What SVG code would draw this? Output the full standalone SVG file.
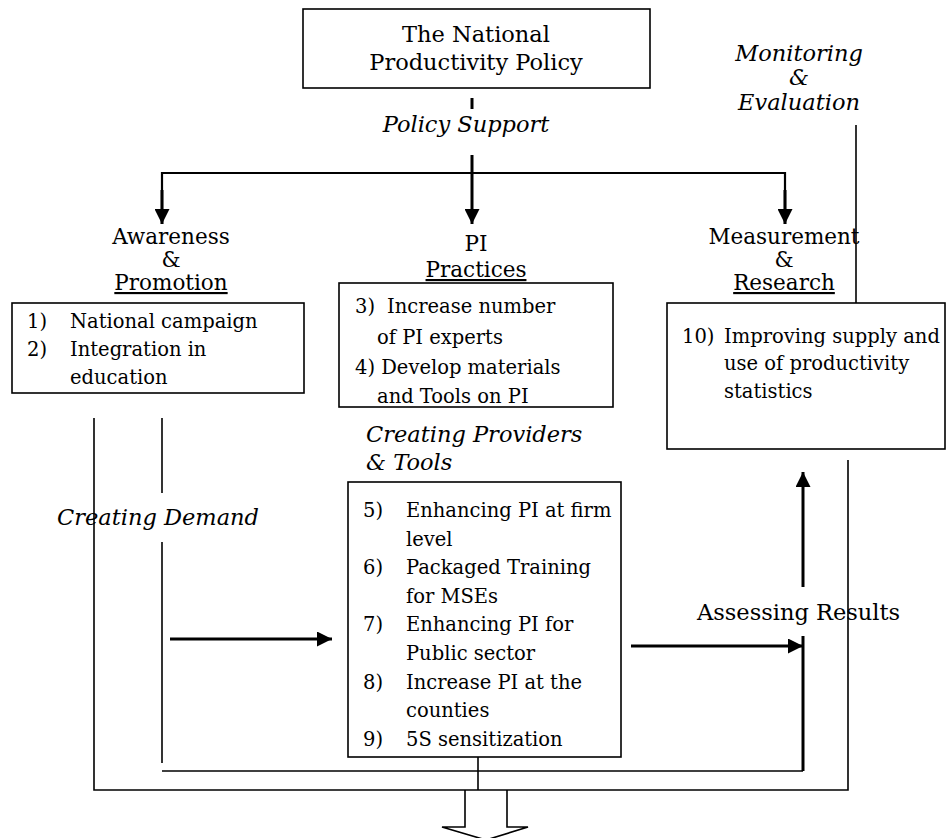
<svg xmlns="http://www.w3.org/2000/svg" width="946" height="838" viewBox="0 0 946 838">
<defs>
<style>
text{font-family:"DejaVu Serif","Liberation Serif",serif;fill:#000}
.h{font-size:22.5px}
.hs{font-size:21.5px}
.hi{font-size:22.5px;font-style:italic}
.b{font-size:19.5px}
.u{text-decoration:underline}
.box{fill:#fff;stroke:#000;stroke-width:1.6}
.thin{fill:none;stroke:#000;stroke-width:1.6}
.thick{fill:none;stroke:#000;stroke-width:3}
.med{fill:none;stroke:#000;stroke-width:2.2}
</style>
<marker id="ah" viewBox="0 0 10 10" refX="10" refY="5" markerWidth="5" markerHeight="5" orient="auto" markerUnits="strokeWidth">
<path d="M0,0 L10,5 L0,10 z" fill="#000"/>
</marker>
</defs>
<rect width="946" height="838" fill="#fff"/>

<g id="connectors">
<line class="thick" x1="472" y1="98" x2="472" y2="109"/>
<line class="thick" x1="472" y1="155" x2="472" y2="224" marker-end="url(#ah)"/>
<polyline class="med" points="162,224 162,173 785,173 785,224"/>
<line class="thick" x1="162" y1="190" x2="162" y2="224" marker-end="url(#ah)"/>
<line class="thick" x1="785" y1="190" x2="785" y2="224" marker-end="url(#ah)"/>
<line class="thin" x1="856" y1="125" x2="856" y2="303"/>
<polyline class="thin" points="94,418 94,790 848,790 848,460"/>
<line class="thin" x1="162" y1="418" x2="162" y2="493"/>
<line class="thin" x1="162" y1="542" x2="162" y2="763"/>
<line class="thin" x1="162" y1="771" x2="803" y2="771"/>
<line class="thick" x1="803" y1="771" x2="803" y2="636"/>
<line class="thick" x1="170" y1="639" x2="332" y2="639" marker-end="url(#ah)"/>
<line class="thick" x1="631" y1="646" x2="803" y2="646" marker-end="url(#ah)"/>
<line class="thick" x1="803" y1="587" x2="803" y2="472" marker-end="url(#ah)"/>
<line class="thin" x1="478" y1="757" x2="478" y2="790"/>
<polyline class="thin" points="465,790 465,827 442,827 486,840 528,827 507,827 507,790"/>
</g>

<g id="policy">
<rect class="box" x="303" y="9" width="347" height="79"/>
<text class="h" text-anchor="middle"><tspan x="476" y="42">The National</tspan><tspan x="476" y="70">Productivity Policy</tspan></text>
</g>

<g id="policy-support">
<text class="hi" x="466" y="132" text-anchor="middle">Policy Support</text>
</g>

<g id="monitoring">
<text class="hi" text-anchor="middle"><tspan x="799" y="61">Monitoring</tspan><tspan x="799" y="85">&amp;</tspan><tspan x="799" y="110">Evaluation</tspan></text>
</g>

<g id="awareness">
<text class="hs" text-anchor="middle"><tspan x="171" y="244">Awareness</tspan><tspan x="171" y="267">&amp;</tspan><tspan x="171" y="290" class="u">Promotion</tspan></text>
<rect class="box" x="12" y="303" width="292" height="90"/>
<text class="b" x="27" y="328">1)</text>
<text class="b" x="70" y="328">National campaign</text>
<text class="b" x="27" y="356">2)</text>
<text class="b"><tspan x="70" y="356">Integration in</tspan><tspan x="70" y="384">education</tspan></text>
</g>

<g id="practices">
<text class="hs" text-anchor="middle"><tspan x="476" y="251">PI</tspan><tspan x="476" y="277" class="u">Practices</tspan></text>
<rect class="box" x="339" y="283" width="274" height="124"/>
<text class="b" x="355" y="313">3)</text>
<text class="b"><tspan x="387" y="313">Increase number</tspan><tspan x="377" y="344">of PI experts</tspan></text>
<text class="b"><tspan x="355" y="374">4) Develop materials</tspan><tspan x="377" y="403">and Tools on PI</tspan></text>
</g>

<g id="measurement">
<text class="hs" text-anchor="middle"><tspan x="784" y="244">Measurement</tspan><tspan x="784" y="267">&amp;</tspan><tspan x="784" y="290" class="u">Research</tspan></text>
<rect class="box" x="667" y="303" width="278" height="146"/>
<text class="b" x="682" y="343">10)</text>
<text class="b"><tspan x="724" y="343">Improving supply and</tspan><tspan x="724" y="370">use of productivity</tspan><tspan x="724" y="398">statistics</tspan></text>
</g>

<g id="creating-demand">
<text class="hi" x="57" y="525">Creating Demand</text>
</g>

<g id="providers">
<text class="hi"><tspan x="366" y="442">Creating Providers</tspan><tspan x="366" y="470">&amp; Tools</tspan></text>
<rect class="box" x="348" y="482" width="273" height="275"/>
<text class="b" x="363" y="517">5)</text>
<text class="b"><tspan x="406" y="517">Enhancing PI at firm</tspan><tspan x="406" y="546">level</tspan></text>
<text class="b" x="363" y="574">6)</text>
<text class="b"><tspan x="406" y="574">Packaged Training</tspan><tspan x="406" y="603">for MSEs</tspan></text>
<text class="b" x="363" y="631">7)</text>
<text class="b"><tspan x="406" y="631">Enhancing PI for</tspan><tspan x="406" y="660">Public sector</tspan></text>
<text class="b" x="363" y="689">8)</text>
<text class="b"><tspan x="406" y="689">Increase PI at the</tspan><tspan x="406" y="717">counties</tspan></text>
<text class="b" x="363" y="746">9)</text>
<text class="b" x="406" y="746">5S sensitization</text>
</g>

<g id="assessing">
<text class="h" x="697" y="620">Assessing Results</text>
</g>
</svg>
